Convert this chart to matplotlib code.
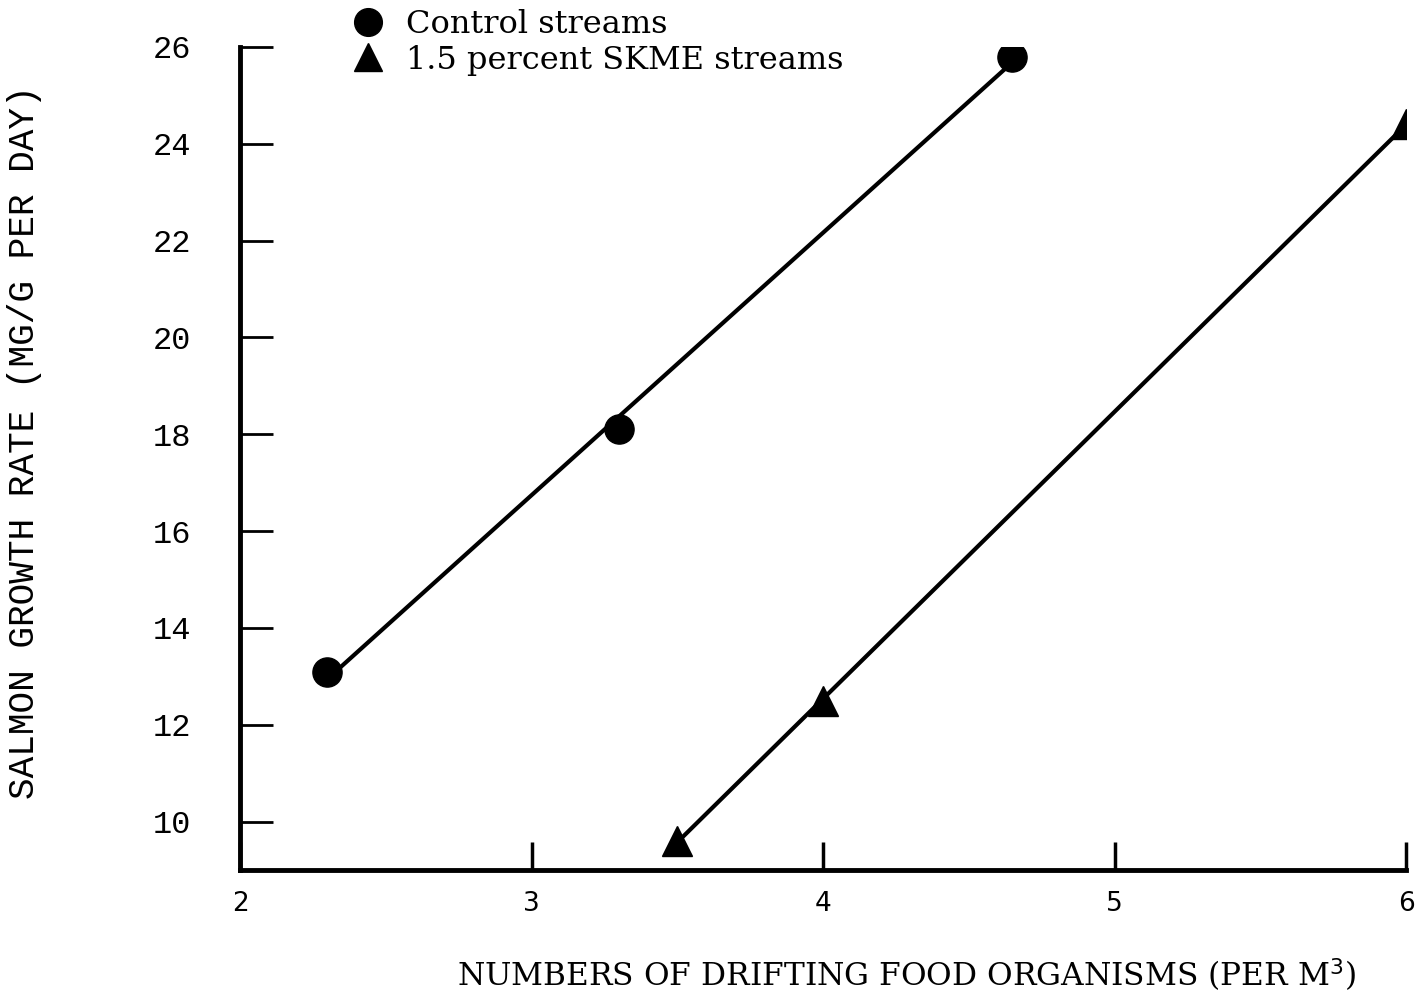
import numpy as np
import matplotlib
matplotlib.use("Agg")
import matplotlib.pyplot as plt

# datos
x_control = [2.3, 3.3, 4.65]
y_control = [13.1, 18.1, 25.8]
x_skme = [3.5, 4.0, 6.0]
y_skme = [9.6, 12.5, 24.4]

xticks = [2, 3, 4, 5, 6]
yticks = [10, 12, 14, 16, 18, 20, 22, 24, 26]

fig = plt.figure(figsize=(14.18, 9.94), dpi=100)
ax = fig.add_axes([240/1418, 1-870/994, (1406-240)/1418, (870-47)/994])

# ajuste lineal de cada serie
for xs, ys in [(x_control, y_control), (x_skme, y_skme)]:
    a, b = np.polyfit(xs, ys, 1)
    xx = np.array([min(xs), max(xs)])
    ax.plot(xx, a*xx + b, color="black", lw=3, solid_capstyle="butt", zorder=2)

ax.plot(x_control, y_control, "o", color="black", ms=21, ls="none", zorder=3, label="Control streams")
ax.plot(x_skme, y_skme, "^", color="black", ms=21, ls="none", zorder=3, label="1.5 percent SKME streams")

ax.set_xlim(2, 6)
ax.set_ylim(9.0, 26)
ax.spines["top"].set_visible(False)
ax.spines["right"].set_visible(False)
ax.spines["left"].set_linewidth(3.5)
ax.spines["bottom"].set_linewidth(3.5)
ax.spines["left"].set_bounds(9.0, 26)

ax.set_xticks(xticks)
ax.set_xticklabels([str(t) for t in xticks], fontsize=19, family="DejaVu Sans")
ax.set_yticks(yticks)
ax.set_yticklabels([str(t) for t in yticks], fontsize=23, family="Liberation Mono")
ax.tick_params(axis="x", direction="in", length=20, width=2.5, pad=15)
ax.tick_params(axis="y", direction="in", length=24, width=2, pad=35)

fig.text(25/1418, 1-442/994, "SALMON GROWTH RATE (MG/G PER DAY)", rotation=90,
         ha="center", va="center", fontsize=26, family="Liberation Mono")
fig.text(906/1418, 1-975/994, "NUMBERS OF DRIFTING FOOD ORGANISMS (PER M$^3$)",
         ha="center", va="center", fontsize=22.5, family="DejaVu Serif")

ax.legend(loc="upper left", bbox_to_anchor=(341/1418, 1.004), bbox_transform=fig.transFigure,
          frameon=False, handlelength=0.9, handletextpad=0.75, labelspacing=0.15,
          markerscale=0.95, prop={"family": "DejaVu Serif", "size": 23}, borderaxespad=0.0)

fig.savefig("out.png", dpi=100)
